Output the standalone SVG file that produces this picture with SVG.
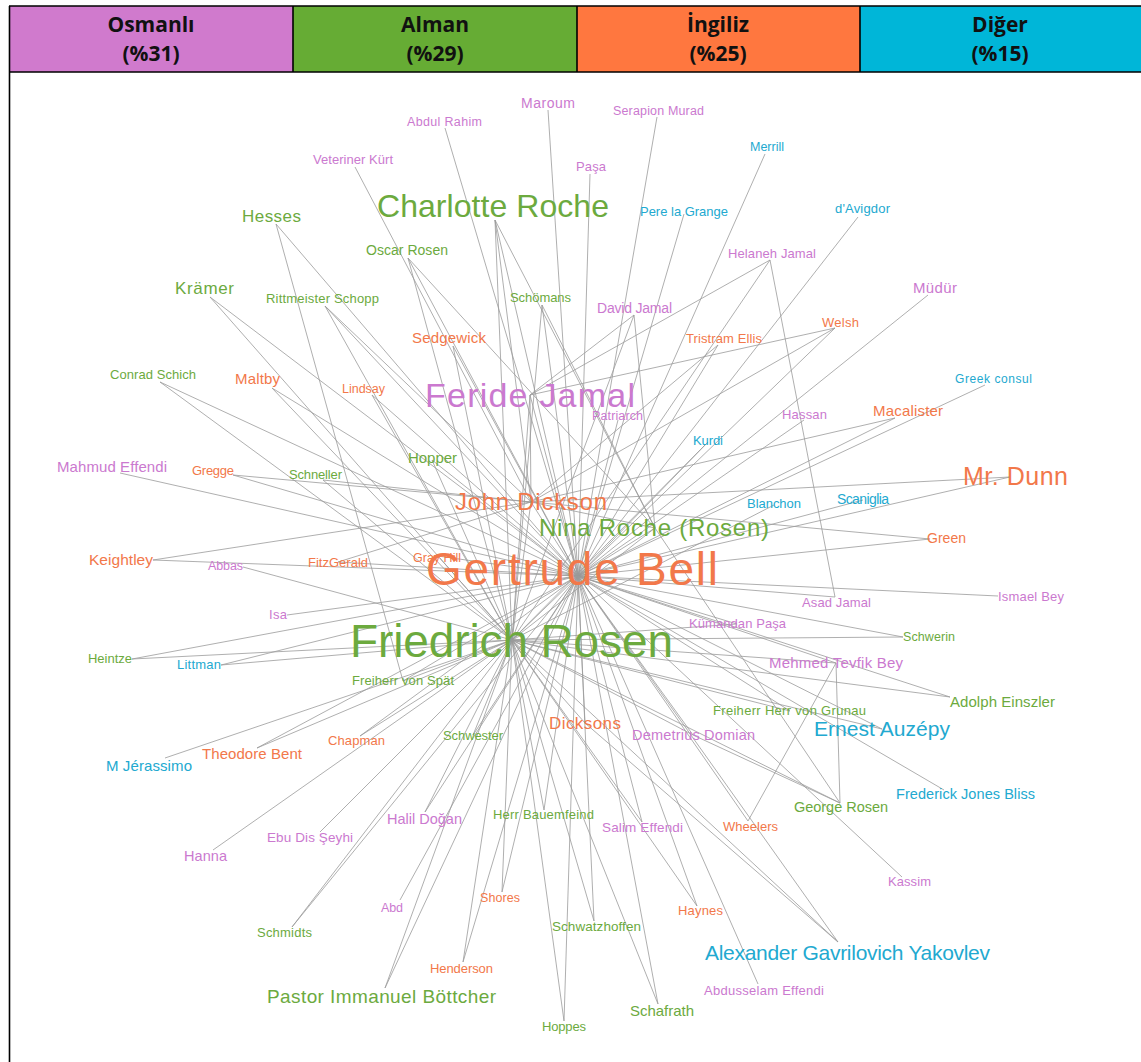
<svg xmlns="http://www.w3.org/2000/svg" width="1141" height="1062" viewBox="0 0 1141 1062">
<style>
.hd text{font-family:"Open Sans","Liberation Sans",sans-serif;font-weight:700;font-size:21px;fill:#111;text-anchor:middle}
.hl{stroke:#000;stroke-width:1.6;fill:none}
#edges path{stroke:#9a9a9a;stroke-width:0.8;fill:none}
.n text{font-family:"Liberation Sans",Arial,sans-serif}
.p{fill:#CB79CF}.g{fill:#6CAA3E}.o{fill:#F2784A}.c{fill:#22A9D0}
</style>
<rect width="1141" height="1062" fill="#fff"/>
<g id="header" class="hd">
<g id="h-osmanli"><rect x="9" y="6" width="284" height="66" fill="#D07ACD"/><text x="151" y="32">Osmanlı</text><text x="151" y="61">(%31)</text></g>
<g id="h-alman"><rect x="293" y="6" width="284" height="66" fill="#66AC34"/><text x="435" y="32">Alman</text><text x="435" y="61">(%29)</text></g>
<g id="h-ingiliz"><rect x="577" y="6" width="283" height="66" fill="#FF773F"/><text x="718" y="32">İngiliz</text><text x="718" y="61">(%25)</text></g>
<g id="h-diger"><rect x="860" y="6" width="281" height="66" fill="#00B6D8"/><text x="1000" y="32">Diğer</text><text x="1000" y="61">(%15)</text></g>
<path class="hl" d="M9 6H1141M9 72H1141M293 6V72M577 6V72M860 6V72M9.5 6V1062"/>
</g>
<g id="edges">
<path d="M578 576L512 640M578 576L530 395M578 576L495 220M578 576L531 502M578 576L655 528M512 640L495 220M512 640L655 528M512 640L531 502M512 640L530 395M530 395L531 502M495 220L655 528M495 220L531 502M531 502L655 528"/>
<path d="M548 110L578 576M445 128L578 576M657 117L578 576M355 167L531 502M590 174L578 576M765 154L578 576"/>
<path d="M276 224L578 576M276 224L403 681M684 214L578 576M858 217L578 576"/>
<path d="M408 258L512 640M408 258L578 576M408 258L655 528"/>
<path d="M770 260L530 395M770 260L512 640M770 260L835 597"/>
<path d="M210 297L512 640M210 297L578 576M325 306L512 640M325 306L578 576M325 306L531 502"/>
<path d="M542 305L512 640M542 305L578 576M542 305L655 528M634 315L530 395M634 315L512 640M634 315L655 528"/>
<path d="M928 295L578 576M453 346L578 576M453 346L512 640M718 345L531 502M718 345L578 576"/>
<path d="M835 328L530 395M835 328L531 502M835 328L578 576"/>
<path d="M160 382L578 576M160 382L512 640M272 388L578 576M272 388L512 640M372 395L578 576M372 395L512 640"/>
<path d="M985 385L578 576M895 418L531 502M895 418L578 576M618 420L578 576M804 420L578 576M708 442L578 576M708 442L512 640"/>
<path d="M120 473L578 576M233 475L531 502M233 475L578 576M323 480L531 502M323 480L512 640M432 460L578 576M432 460L512 640"/>
<path d="M1010 477L531 502M1010 477L578 576M774 505L512 640M863 500L578 576M930 539L531 502M930 539L578 576"/>
<path d="M153 560L531 502M153 560L578 576M243 567L512 640M338 562L578 576M338 562L531 502M438 556L578 576M438 556L512 640"/>
<path d="M835 597L578 576M998 596L578 576M287 615L578 576M737 624L578 576M737 624L512 640M903 637L578 576M903 637L512 640"/>
<path d="M132 659L578 576M132 659L512 640M221 665L578 576M221 665L512 640"/>
<path d="M836 663L578 576M836 663L512 640M836 663L748 821M836 663L840 803"/>
<path d="M403 681L578 576M403 681L512 640M950 697L578 576M950 697L512 640M790 711L578 576M790 711L512 640M882 729L578 576M882 729L512 640"/>
<path d="M585 723L838 942M585 723L578 576M585 723L512 640M693 735L578 576M693 735L512 640M693 735L840 803"/>
<path d="M473 735L578 576M473 735L512 640M360 736L578 576M360 736L512 640M257 748L578 576M257 748L512 640M165 758L512 640"/>
<path d="M944 790L578 576M840 803L512 640M840 803L655 528M544 810L578 576M544 810L512 640M425 812L578 576M425 812L512 640"/>
<path d="M642 822L578 576M642 822L512 640M748 821L578 576M320 832L512 640M213 850L512 640M902 877L578 576M400 900L578 576"/>
<path d="M502 892L578 576M502 892L512 640M697 906L578 576M697 906L512 640M292 927L578 576M292 927L512 640M594 921L578 576M594 921L512 640"/>
<path d="M838 942L578 576M838 942L512 640M463 962L512 640M463 962L578 576M758 984L578 576M385 988L578 576M385 988L512 640"/>
<path d="M658 1004L512 640M658 1004L578 576M564 1021L512 640M564 1021L578 576"/>
</g>
<g class="n">
<g id="n-maroum"><text class="p" x="521" y="108" font-size="14" textLength="54" lengthAdjust="spacing">Maroum</text></g>
<g id="n-abdulrahim"><text class="p" x="407" y="126" font-size="12.5" textLength="75" lengthAdjust="spacing">Abdul Rahim</text></g>
<g id="n-serapion"><text class="p" x="613" y="115" font-size="12.5" textLength="91" lengthAdjust="spacing">Serapion Murad</text></g>
<g id="n-veteriner"><text class="p" x="313" y="164" font-size="13" textLength="80" lengthAdjust="spacing">Veteriner Kürt</text></g>
<g id="n-pasa"><text class="p" x="576" y="171" font-size="13" textLength="30" lengthAdjust="spacing">Paşa</text></g>
<g id="n-merrill"><text class="c" x="750" y="151" font-size="12.5" textLength="34" lengthAdjust="spacing">Merrill</text></g>
<g id="n-charlotte"><text class="g" x="377" y="217" font-size="32" textLength="232" lengthAdjust="spacing">Charlotte Roche</text></g>
<g id="n-hesses"><text class="g" x="242" y="222" font-size="17" textLength="59" lengthAdjust="spacing">Hesses</text></g>
<g id="n-pere"><text class="c" x="640" y="216" font-size="13" textLength="88" lengthAdjust="spacing">Pere la Grange</text></g>
<g id="n-davigdor"><text class="c" x="835" y="213" font-size="13" textLength="55" lengthAdjust="spacing">d'Avigdor</text></g>
<g id="n-oscar"><text class="g" x="366" y="255" font-size="14" textLength="82" lengthAdjust="spacing">Oscar Rosen</text></g>
<g id="n-helaneh"><text class="p" x="728" y="258" font-size="13" textLength="88" lengthAdjust="spacing">Helaneh Jamal</text></g>
<g id="n-kramer"><text class="g" x="175" y="294" font-size="17" textLength="59" lengthAdjust="spacing">Krämer</text></g>
<g id="n-rittmeister"><text class="g" x="266" y="303" font-size="13" textLength="113" lengthAdjust="spacing">Rittmeister Schopp</text></g>
<g id="n-schomans"><text class="g" x="510" y="302" font-size="13" textLength="61" lengthAdjust="spacing">Schömans</text></g>
<g id="n-david"><text class="p" x="597" y="313" font-size="14" textLength="75" lengthAdjust="spacing">David Jamal</text></g>
<g id="n-mudur"><text class="p" x="913" y="293" font-size="15" textLength="44" lengthAdjust="spacing">Müdür</text></g>
<g id="n-sedgewick"><text class="o" x="412" y="343" font-size="15" textLength="74" lengthAdjust="spacing">Sedgewick</text></g>
<g id="n-tristram"><text class="o" x="686" y="343" font-size="13" textLength="76" lengthAdjust="spacing">Tristram Ellis</text></g>
<g id="n-welsh"><text class="o" x="822" y="327" font-size="13" textLength="37" lengthAdjust="spacing">Welsh</text></g>
<g id="n-conrad"><text class="g" x="110" y="379" font-size="13" textLength="86" lengthAdjust="spacing">Conrad Schich</text></g>
<g id="n-maltby"><text class="o" x="235" y="384" font-size="15" textLength="45" lengthAdjust="spacing">Maltby</text></g>
<g id="n-lindsay"><text class="o" x="342" y="393" font-size="12.5" textLength="43" lengthAdjust="spacing">Lindsay</text></g>
<g id="n-feride"><text class="p" x="425" y="407" font-size="34" textLength="210" lengthAdjust="spacing">Feride Jamal</text></g>
<g id="n-greek"><text class="c" x="955" y="383" font-size="12" textLength="77" lengthAdjust="spacing">Greek consul</text></g>
<g id="n-macalister"><text class="o" x="873" y="416" font-size="15" textLength="70" lengthAdjust="spacing">Macalister</text></g>
<g id="n-patriarch"><text class="p" x="592" y="420" font-size="12.5" textLength="51" lengthAdjust="spacing">Patriarch</text></g>
<g id="n-hassan"><text class="p" x="782" y="419" font-size="13" textLength="45" lengthAdjust="spacing">Hassan</text></g>
<g id="n-kurdi"><text class="c" x="693" y="445" font-size="13" textLength="30" lengthAdjust="spacing">Kurdi</text></g>
<g id="n-mahmud"><text class="p" x="57" y="472" font-size="15" textLength="110" lengthAdjust="spacing">Mahmud Effendi</text></g>
<g id="n-gregge"><text class="o" x="192" y="475" font-size="13" textLength="42" lengthAdjust="spacing">Gregge</text></g>
<g id="n-schneller"><text class="g" x="289" y="479" font-size="13" textLength="53" lengthAdjust="spacing">Schneller</text></g>
<g id="n-hopper"><text class="g" x="408" y="463" font-size="15" textLength="49" lengthAdjust="spacing">Hopper</text></g>
<g id="n-dunn"><text class="o" x="963" y="485" font-size="25" textLength="105" lengthAdjust="spacing">Mr. Dunn</text></g>
<g id="n-johndickson"><text class="o" x="455" y="510" font-size="24" textLength="152" lengthAdjust="spacing">John Dickson</text></g>
<g id="n-blanchon"><text class="c" x="747" y="508" font-size="13" textLength="54" lengthAdjust="spacing">Blanchon</text></g>
<g id="n-scaniglia"><text class="c" x="837" y="504" font-size="14" textLength="52" lengthAdjust="spacing">Scaniglia</text></g>
<g id="n-nina"><text class="g" x="539" y="536" font-size="24" textLength="230" lengthAdjust="spacing">Nina Roche (Rosen)</text></g>
<g id="n-green"><text class="o" x="927" y="543" font-size="14" textLength="39" lengthAdjust="spacing">Green</text></g>
<g id="n-keightley"><text class="o" x="89" y="565" font-size="15.5" textLength="64" lengthAdjust="spacing">Keightley</text></g>
<g id="n-abbas"><text class="p" x="208" y="570" font-size="12.5" textLength="35" lengthAdjust="spacing">Abbas</text></g>
<g id="n-fitzgerald"><text class="o" x="308" y="567" font-size="13" textLength="60" lengthAdjust="spacing">FitzGerald</text></g>
<g id="n-grayhill"><text class="o" x="413" y="562" font-size="12.5" textLength="48" lengthAdjust="spacing">Gray Hill</text></g>
<g id="n-gertrude"><text class="o" x="426" y="585" font-size="46" textLength="292" lengthAdjust="spacing">Gertrude Bell</text></g>
<g id="n-asad"><text class="p" x="802" y="607" font-size="13" textLength="69" lengthAdjust="spacing">Asad Jamal</text></g>
<g id="n-ismael"><text class="p" x="998" y="601" font-size="13" textLength="66" lengthAdjust="spacing">Ismael Bey</text></g>
<g id="n-isa"><text class="p" x="269" y="619" font-size="13" textLength="18" lengthAdjust="spacing">Isa</text></g>
<g id="n-kumandan"><text class="p" x="689" y="628" font-size="13" textLength="97" lengthAdjust="spacing">Kümandan Paşa</text></g>
<g id="n-schwerin"><text class="g" x="903" y="641" font-size="12.5" textLength="52" lengthAdjust="spacing">Schwerin</text></g>
<g id="n-friedrich"><text class="g" x="350" y="657" font-size="46" textLength="323" lengthAdjust="spacing">Friedrich Rosen</text></g>
<g id="n-heintze"><text class="g" x="88" y="663" font-size="13" textLength="44" lengthAdjust="spacing">Heintze</text></g>
<g id="n-littman"><text class="c" x="177" y="669" font-size="13" textLength="44" lengthAdjust="spacing">Littman</text></g>
<g id="n-mehmed"><text class="p" x="769" y="668" font-size="15" textLength="134" lengthAdjust="spacing">Mehmed Tevfik Bey</text></g>
<g id="n-spat"><text class="g" x="352" y="685" font-size="13" textLength="102" lengthAdjust="spacing">Freiherr von Spät</text></g>
<g id="n-adolph"><text class="g" x="950" y="707" font-size="15" textLength="105" lengthAdjust="spacing">Adolph Einszler</text></g>
<g id="n-grunau"><text class="g" x="713" y="715" font-size="13" textLength="153" lengthAdjust="spacing">Freiherr Herr von Grunau</text></g>
<g id="n-auzepy"><text class="c" x="814" y="736" font-size="21" textLength="136" lengthAdjust="spacing">Ernest Auzépy</text></g>
<g id="n-dicksons"><text class="o" x="549" y="729" font-size="17" textLength="72" lengthAdjust="spacing">Dicksons</text></g>
<g id="n-demetrius"><text class="p" x="632" y="740" font-size="14.5" textLength="123" lengthAdjust="spacing">Demetrius Domian</text></g>
<g id="n-schwester"><text class="g" x="443" y="740" font-size="13" textLength="60" lengthAdjust="spacing">Schwester</text></g>
<g id="n-chapman"><text class="o" x="328" y="745" font-size="13" textLength="57" lengthAdjust="spacing">Chapman</text></g>
<g id="n-bent"><text class="o" x="202" y="759" font-size="15" textLength="100" lengthAdjust="spacing">Theodore Bent</text></g>
<g id="n-jerassimo"><text class="c" x="106" y="771" font-size="15" textLength="86" lengthAdjust="spacing">M Jérassimo</text></g>
<g id="n-bliss"><text class="c" x="896" y="799" font-size="14.5" textLength="139" lengthAdjust="spacing">Frederick Jones Bliss</text></g>
<g id="n-georgerosen"><text class="g" x="794" y="812" font-size="14.5" textLength="94" lengthAdjust="spacing">George Rosen</text></g>
<g id="n-bauemfeind"><text class="g" x="493" y="819" font-size="13" textLength="101" lengthAdjust="spacing">Herr Bauemfeind</text></g>
<g id="n-halil"><text class="p" x="387" y="824" font-size="14.5" textLength="75" lengthAdjust="spacing">Halil Doğan</text></g>
<g id="n-salim"><text class="p" x="602" y="832" font-size="13.5" textLength="81" lengthAdjust="spacing">Salim Effendi</text></g>
<g id="n-wheelers"><text class="o" x="723" y="831" font-size="13" textLength="55" lengthAdjust="spacing">Wheelers</text></g>
<g id="n-ebu"><text class="p" x="267" y="842" font-size="13.5" textLength="86" lengthAdjust="spacing">Ebu Dis Şeyhi</text></g>
<g id="n-hanna"><text class="p" x="184" y="861" font-size="14.5" textLength="43" lengthAdjust="spacing">Hanna</text></g>
<g id="n-kassim"><text class="p" x="888" y="886" font-size="13" textLength="43" lengthAdjust="spacing">Kassim</text></g>
<g id="n-abd"><text class="p" x="381" y="912" font-size="12.5" textLength="22" lengthAdjust="spacing">Abd</text></g>
<g id="n-shores"><text class="o" x="480" y="902" font-size="12.5" textLength="40" lengthAdjust="spacing">Shores</text></g>
<g id="n-haynes"><text class="o" x="678" y="915" font-size="13" textLength="45" lengthAdjust="spacing">Haynes</text></g>
<g id="n-schmidts"><text class="g" x="257" y="937" font-size="13" textLength="55" lengthAdjust="spacing">Schmidts</text></g>
<g id="n-schwatzhoffen"><text class="g" x="552" y="931" font-size="13.5" textLength="89" lengthAdjust="spacing">Schwatzhoffen</text></g>
<g id="n-yakovlev"><text class="c" x="705" y="960" font-size="21" textLength="285" lengthAdjust="spacing">Alexander Gavrilovich Yakovlev</text></g>
<g id="n-henderson"><text class="o" x="430" y="973" font-size="13" textLength="63" lengthAdjust="spacing">Henderson</text></g>
<g id="n-abdusselam"><text class="p" x="704" y="995" font-size="13" textLength="120" lengthAdjust="spacing">Abdusselam Effendi</text></g>
<g id="n-pastor"><text class="g" x="267" y="1003" font-size="19" textLength="229" lengthAdjust="spacing">Pastor Immanuel Böttcher</text></g>
<g id="n-schafrath"><text class="g" x="630" y="1016" font-size="15" textLength="64" lengthAdjust="spacing">Schafrath</text></g>
<g id="n-hoppes"><text class="g" x="542" y="1031" font-size="13" textLength="44" lengthAdjust="spacing">Hoppes</text></g>
</g>
</svg>
